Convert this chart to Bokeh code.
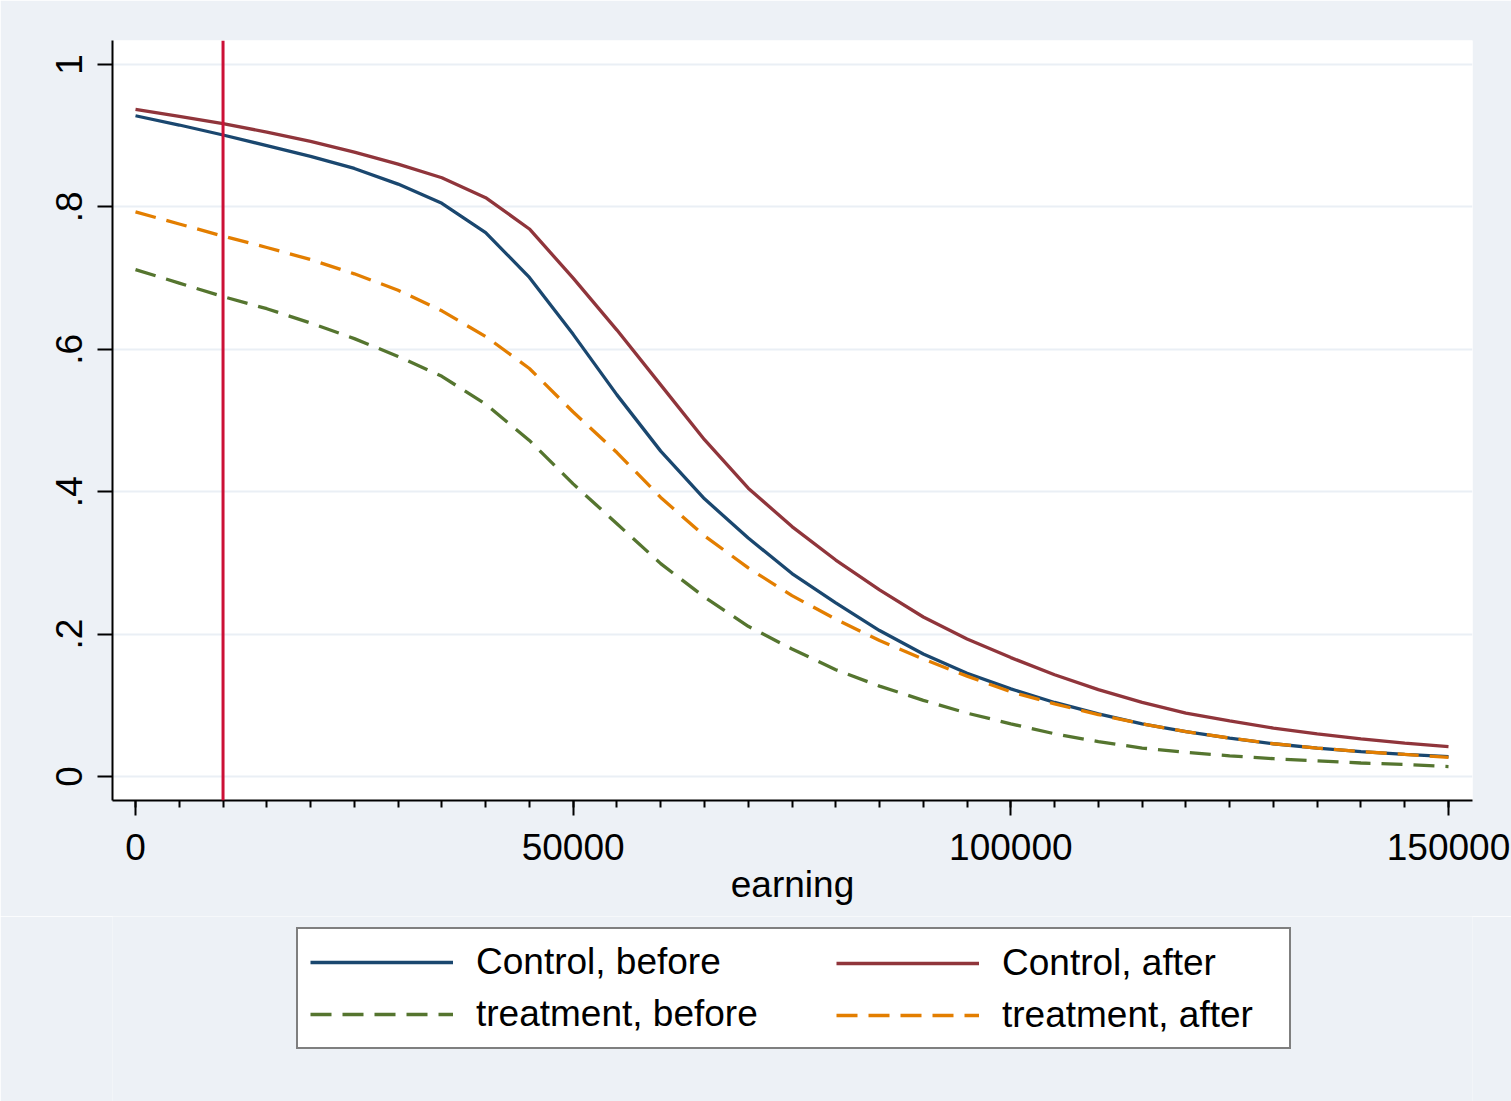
from bokeh.plotting import figure
from bokeh.layouts import column
from bokeh.models import Range1d, FixedTicker, Span, Legend, LegendItem
from bokeh.embed import file_html
from bokeh.resources import INLINE

# Predicted share by earnings level, one value every 5000
earning = [0, 5000, 10000, 15000, 20000, 25000, 30000, 35000, 40000, 45000,
           50000, 55000, 60000, 65000, 70000, 75000, 80000, 85000, 90000, 95000,
           100000, 105000, 110000, 115000, 120000, 125000, 130000, 135000,
           140000, 145000, 150000]

control_before = [0.928, 0.915, 0.901, 0.886, 0.871, 0.854, 0.832, 0.805, 0.764, 0.701,
                  0.621, 0.536, 0.457, 0.390, 0.335, 0.285, 0.244, 0.205, 0.172, 0.145,
                  0.123, 0.104, 0.088, 0.074, 0.063, 0.054, 0.046, 0.040, 0.035, 0.031,
                  0.028]

control_after = [0.937, 0.927, 0.917, 0.905, 0.892, 0.877, 0.860, 0.841, 0.813, 0.769,
                 0.700, 0.627, 0.550, 0.473, 0.405, 0.351, 0.304, 0.262, 0.224, 0.193,
                 0.167, 0.143, 0.122, 0.104, 0.089, 0.078, 0.068, 0.060, 0.053, 0.047,
                 0.042]

treatment_before = [0.712, 0.693, 0.674, 0.657, 0.637, 0.615, 0.590, 0.562, 0.523, 0.472,
                    0.411, 0.355, 0.299, 0.252, 0.211, 0.179, 0.150, 0.127, 0.107, 0.089,
                    0.074, 0.060, 0.049, 0.040, 0.034, 0.029, 0.025, 0.022, 0.019, 0.017,
                    0.014]

treatment_after = [0.793, 0.776, 0.759, 0.743, 0.726, 0.706, 0.683, 0.654, 0.618, 0.573,
                   0.512, 0.455, 0.392, 0.338, 0.293, 0.254, 0.221, 0.191, 0.165, 0.141,
                   0.119, 0.102, 0.087, 0.074, 0.063, 0.054, 0.046, 0.040, 0.035, 0.031,
                   0.027]

cutoff = 10000

series_labels = ["Control, before", "Control, after", "treatment, before", "treatment, after"]
series = [control_before, control_after, treatment_before, treatment_after]

x_ticks = [0, 50000, 100000, 150000]
x_tick_labels = ["0", "50000", "100000", "150000"]
x_minor_ticks = earning
y_ticks = [0, 0.2, 0.4, 0.6, 0.8, 1]
y_tick_labels = ["0", ".2", ".4", ".6", ".8", "1"]

FONT = "Liberation Sans"
FS = "37px"
BG = "#EDF1F6"
W = 1511
H = 1101
MAIN_H = 916
LEFT, RIGHT = 112, 39

STYLES = {
    "Control, before": dict(line_color="#1A476F", line_width=3.3),
    "Control, after": dict(line_color="#90353B", line_width=3.3),
    "treatment, before": dict(line_color="#55752F", line_width=3.3, line_dash="21 11"),
    "treatment, after": dict(line_color="#E37E00", line_width=3.3, line_dash="21 11"),
}

# ---------------------------------------------------------------- main chart
p = figure(width=W, height=MAIN_H, output_backend="svg", toolbar_location=None,
           x_range=Range1d(-2628, 152742), y_range=Range1d(-0.0337, 1.0337),
           min_border_left=LEFT, min_border_right=RIGHT, min_border_top=40,
           min_border_bottom=MAIN_H - 800)
p.border_fill_color = BG
p.background_fill_color = "white"
p.outline_line_color = None

p.xgrid.visible = False
p.ygrid.ticker = FixedTicker(ticks=y_ticks)
p.ygrid.grid_line_color = "#EAEFF5"
p.ygrid.grid_line_width = 2

xa = p.xaxis[0]
xa.ticker = FixedTicker(ticks=x_ticks, minor_ticks=x_minor_ticks)
xa.major_label_overrides = dict(zip(x_ticks, x_tick_labels))
xa.axis_label = "earning"
ya = p.yaxis[0]
ya.ticker = FixedTicker(ticks=y_ticks, minor_ticks=[])
ya.major_label_overrides = dict(zip(y_ticks, y_tick_labels))
ya.major_label_orientation = "vertical"

for ax in (xa, ya):
    ax.axis_line_color = "black"
    ax.axis_line_width = 2
    ax.major_tick_line_color = "black"
    ax.major_tick_line_width = 2
    ax.minor_tick_line_color = "black"
    ax.minor_tick_line_width = 2
    ax.major_tick_in = 0
    ax.major_tick_out = 15
    ax.minor_tick_in = 0
    ax.minor_tick_out = 7
    ax.major_label_text_font = FONT
    ax.major_label_text_font_size = FS
    ax.major_label_text_color = "black"
    ax.axis_label_text_font = FONT
    ax.axis_label_text_font_size = FS
    ax.axis_label_text_font_style = "normal"
    ax.axis_label_text_color = "black"
xa.major_label_standoff = 18
xa.axis_label_standoff = 1
ya.major_label_standoff = 15

for name, values in zip(series_labels, series):
    p.line(earning, values, **STYLES[name])

p.add_layout(Span(location=cutoff, dimension="height", line_color="#CC1036",
                  line_width=3))

# ---------------------------------------------------------------- legend strip
leg = figure(width=W, height=H - MAIN_H, output_backend="svg", toolbar_location=None,
             x_range=Range1d(0, 1), y_range=Range1d(0, 1),
             x_axis_location=None, y_axis_location=None,
             min_border_left=LEFT, min_border_right=RIGHT, min_border_top=0,
             min_border_bottom=0)
leg.border_fill_color = BG
leg.background_fill_color = BG
leg.outline_line_color = None
leg.grid.visible = False

# hidden copies of the series supply the legend keys
keys = {name: leg.line(earning, values, visible=False, **STYLES[name])
        for name, values in zip(series_labels, series)}

PAD = 12
BOTTOM = H - 1049
common = dict(label_text_font=FONT, label_text_font_size=FS, label_text_color="black",
              glyph_width=143, glyph_height=20, label_standoff=23, padding=PAD,
              spacing=10, margin=0, orientation="vertical", border_line_width=2)
leg_left = Legend(items=[LegendItem(label=n, renderers=[keys[n]])
                         for n in (series_labels[0], series_labels[2])],
                  location=(296 - LEFT, BOTTOM), label_width=991 - 2 * PAD - 143 - 23,
                  border_line_color="black",
                  background_fill_color="white", background_fill_alpha=1.0, **common)
leg_right = Legend(items=[LegendItem(label=n, renderers=[keys[n]])
                          for n in (series_labels[1], series_labels[3])],
                   location=(836 - PAD - LEFT, BOTTOM + 1), border_line_color="black",
                   border_line_alpha=0.0, background_fill_alpha=0.0, **common)
leg.add_layout(leg_left, "center")
leg.add_layout(leg_right, "center")

layout = column(p, leg, spacing=0)
open("out.html", "w").write(file_html(layout, INLINE))
